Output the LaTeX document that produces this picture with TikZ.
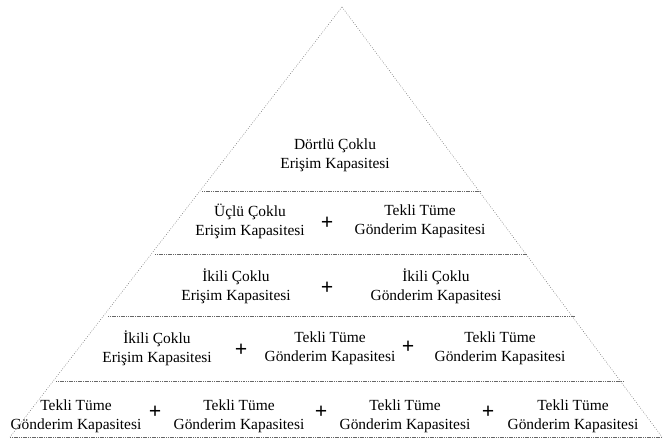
\documentclass[tikz,border=0pt]{standalone}
\usepackage{fontspec}
\setmainfont{Liberation Serif}
\begin{document}
\begin{tikzpicture}[x=1bp,y=-1bp,
  edge/.style={line width=0.5pt,black!55,dash pattern=on 0.8pt off 1.6pt},
  sep/.style={line width=0.5pt,black!60,dash pattern=on 1.2pt off 0.6pt},
  lbl/.style={align=center,inner sep=0pt,font=\rmfamily\fontsize{15.5}{19}\selectfont},
  plus/.style={inner sep=0pt,font=\rmfamily\bfseries\fontsize{22}{22}\selectfont}]
\useasboundingbox (0,0) rectangle (665,442);
\coordinate (apex) at (342,7);
\coordinate (bl) at (10,437);
\coordinate (br) at (662,437);
\draw[edge] (apex) -- (bl);
\draw[edge] (apex) -- (br);
\draw[sep] (bl) -- (br);
% separators
\draw[sep] (202,191) -- (481,191);
\draw[sep] (155,254) -- (528,254);
\draw[sep] (108,316) -- (575,316);
\draw[sep] (56,381) -- (623,381);
% row 1
\node[lbl] (r1) at (335,155) {Dörtlü Çoklu\\Erişim Kapasitesi};
% row 2
\node[lbl] (r2a) at (250,221) {Üçlü Çoklu\\Erişim Kapasitesi};
\node[plus] (p2a) at (327,223) {+};
\node[lbl] (r2b) at (420,221) {Tekli Tüme\\Gönderim Kapasitesi};
% row 3
\node[lbl] (r3a) at (236,286) {İkili Çoklu\\Erişim Kapasitesi};
\node[plus] (p3a) at (327,288) {+};
\node[lbl] (r3b) at (436,286) {İkili Çoklu\\Gönderim Kapasitesi};
% row 4
\node[lbl] (r4a) at (157,348) {İkili Çoklu\\Erişim Kapasitesi};
\node[plus] (p4a) at (241,350) {+};
\node[lbl] (r4b) at (330,348) {Tekli Tüme\\Gönderim Kapasitesi};
\node[plus] (p4b) at (408,347) {+};
\node[lbl] (r4c) at (500,348) {Tekli Tüme\\Gönderim Kapasitesi};
% row 5
\node[lbl] (r5a) at (76,416) {Tekli Tüme\\Gönderim Kapasitesi};
\node[plus] (p5a) at (155,412) {+};
\node[lbl] (r5b) at (239,416) {Tekli Tüme\\Gönderim Kapasitesi};
\node[plus] (p5b) at (321,412) {+};
\node[lbl] (r5c) at (405,416) {Tekli Tüme\\Gönderim Kapasitesi};
\node[plus] (p5c) at (488,412) {+};
\node[lbl] (r5d) at (573,416) {Tekli Tüme\\Gönderim Kapasitesi};
\end{tikzpicture}
\end{document}
